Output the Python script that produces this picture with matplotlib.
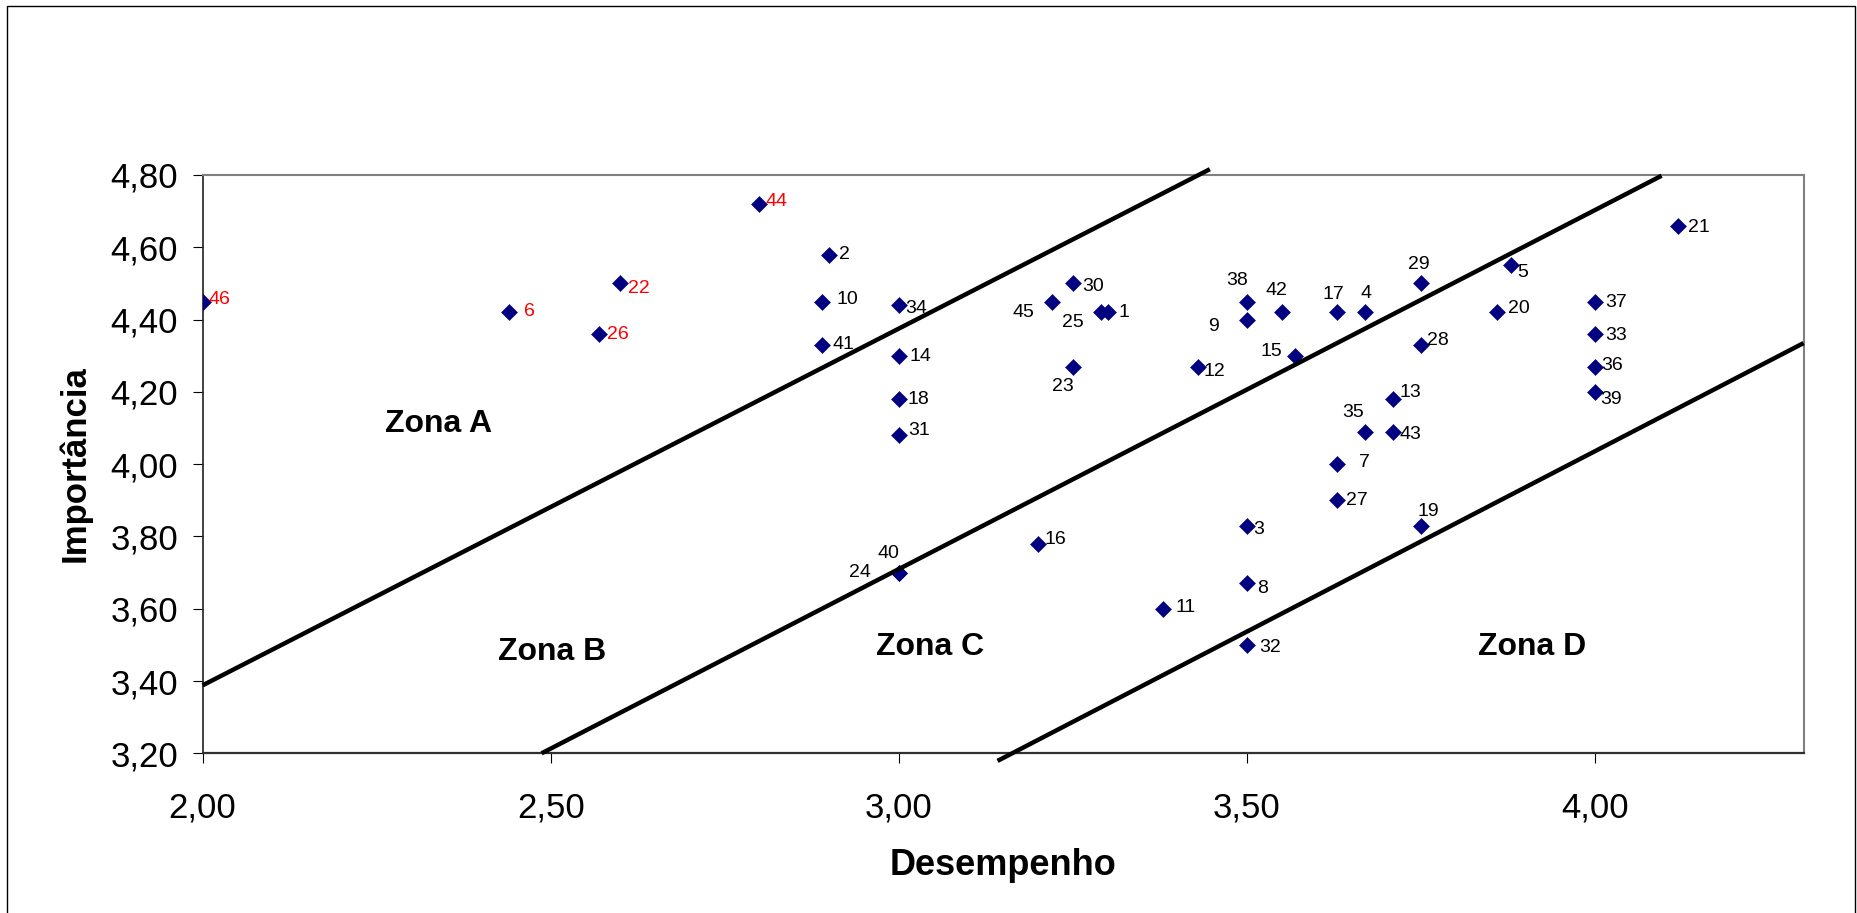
import matplotlib
matplotlib.use("Agg")
import matplotlib.pyplot as plt
from matplotlib.patches import Rectangle
from matplotlib.ticker import FixedLocator, FuncFormatter

plt.rcParams['font.family'] = ['Liberation Sans', 'DejaVu Sans']

# ---- data -------------------------------------------------------------
item_ids = list(range(1, 47))
desempenho = [3.30, 2.90, 3.50, 3.67, 3.88, 2.44, 3.63, 3.50, 3.50, 2.89,
              3.38, 3.43, 3.71, 3.00, 3.57, 3.20, 3.63, 3.00, 3.75, 3.86,
              4.12, 2.60, 3.25, 3.00, 3.29, 2.57, 3.63, 3.75, 3.75, 3.25,
              3.00, 3.50, 4.00, 3.00, 3.67, 4.00, 4.00, 3.50, 4.00, 3.00,
              2.89, 3.55, 3.71, 2.80, 3.22, 2.00]
importancia = [4.42, 4.58, 3.83, 4.42, 4.55, 4.42, 4.00, 3.67, 4.40, 4.45,
               3.60, 4.27, 4.18, 4.30, 4.30, 3.78, 4.42, 4.18, 3.83, 4.42,
               4.66, 4.50, 4.27, 3.70, 4.42, 4.36, 3.90, 4.33, 4.50, 4.50,
               4.08, 3.50, 4.36, 4.44, 4.09, 4.27, 4.45, 4.45, 4.20, 3.70,
               4.33, 4.42, 4.09, 4.72, 4.45, 4.45]
highlighted_ids = [6, 22, 26, 44, 46]

zone_names = ['Zona A', 'Zona B', 'Zona C', 'Zona D']
zone_x = [2.262, 2.424, 2.968, 3.832]
zone_y = [4.088, 3.458, 3.472, 3.471]

# zone boundaries, given by their end points
boundary_x = [(2.000, 3.447), (2.487, 4.096), (3.142, 4.300)]
boundary_y = [(3.388, 4.816), (3.200, 4.798), (3.179, 4.335)]

x_ticks = [2.0, 2.5, 3.0, 3.5, 4.0]
y_ticks = [3.2, 3.4, 3.6, 3.8, 4.0, 4.2, 4.4, 4.6, 4.8]
x_limits = (2.0, 4.3)
y_limits = (3.2, 4.8)

# ---- label placement (pixels from marker: dx, dy downwards, alignment) --
label_place = {
    1: (11, -2, 'left'), 2: (10, -2.5, 'left'), 3: (6, 1.3, 'left'),
    4: (1, -21, 'center'), 5: (6, 5, 'left'), 6: (15, -3, 'left'),
    7: (21.5, -4, 'left'), 8: (10.7, 3, 'left'), 9: (-28, 5, 'right'),
    10: (14, -4, 'left'), 11: (12, -4, 'left'), 12: (5, 3, 'left'),
    13: (6.7, -8.5, 'left'), 14: (11, -2, 'left'), 15: (-13, -6.5, 'right'),
    16: (7, -6.7, 'left'), 17: (-4.3, -20, 'center'), 18: (9, -2, 'left'),
    19: (8, -16, 'center'), 20: (11, -6.3, 'left'), 21: (10, -0.7, 'left'),
    22: (7.7, 2.3, 'left'), 23: (-9.7, 18, 'center'), 24: (-27.6, -2.3, 'right'),
    25: (-16.7, 7.8, 'right'), 26: (8, -2, 'left'), 27: (9.2, -2.5, 'left'),
    28: (6.7, -6.8, 'left'), 29: (-2.3, -21.5, 'center'), 30: (10, 0.5, 'left'),
    31: (10, -7, 'left'), 32: (12.6, 0.5, 'left'), 33: (10, -1.2, 'left'),
    34: (6.3, 0.8, 'left'), 35: (-12.3, -21.5, 'center'), 36: (6, -3.8, 'left'),
    37: (10, -1.2, 'left'), 38: (-9.7, -23.3, 'center'), 39: (5, 4.8, 'left'),
    40: (-10, -21.5, 'center'), 41: (10.3, -2.7, 'left'), 42: (-4.7, -24, 'center'),
    43: (6.3, 0.3, 'left'), 44: (5.7, -4.8, 'left'), 45: (-17.7, 8.2, 'right'),
    46: (5.7, -4, 'left'),
}

W, H, DPI = 1858, 913, 100
fig = plt.figure(figsize=(W / DPI, H / DPI), dpi=DPI)
fig.patch.set_facecolor('white')

# chart frame
fig.patches.append(Rectangle((7.3 / W, -0.02), (1855 - 7.3) / W, 1.02 - 5.7 / H,
                             transform=fig.transFigure, fill=False,
                             edgecolor='black', linewidth=1.0))

left, right = 202.6 / W, 1803.6 / W
bottom, top = 1 - 753.3 / H, 1 - 175 / H
ax = fig.add_axes([left, bottom, right - left, top - bottom])
ax.set_xlim(*x_limits)
ax.set_ylim(*y_limits)

# spines
for side in ('top', 'right'):
    ax.spines[side].set_color('#808080')
    ax.spines[side].set_linewidth(1.5)
ax.spines['left'].set_color('#202020')
ax.spines['left'].set_linewidth(1.2)
ax.spines['bottom'].set_color('#303030')
ax.spines['bottom'].set_linewidth(1.6)

ax.xaxis.set_major_locator(FixedLocator(x_ticks))
ax.yaxis.set_major_locator(FixedLocator(y_ticks))
fmt = FuncFormatter(lambda v, pos: f"{v:.2f}".replace('.', ','))
ax.xaxis.set_major_formatter(fmt)
ax.yaxis.set_major_formatter(fmt)
ax.tick_params(axis='both', direction='out', length=7.2, width=0.8,
               color='black', labelsize=25, labelcolor='black')
ax.tick_params(axis='y', pad=10.5)
ax.tick_params(axis='x', pad=20.5)

# points
ax.plot(desempenho, importancia, linestyle='none', marker='D',
        markersize=8.4, color='#000080', markeredgecolor='#000080',
        markeredgewidth=0.4, zorder=3)

# zone boundaries
for bx, by in zip(boundary_x, boundary_y):
    ax.plot(bx, by, color='black', linewidth=3.2, solid_capstyle='butt',
            clip_on=False, zorder=4)

# point labels
for i, xv, yv in zip(item_ids, desempenho, importancia):
    dx, dy, ha = label_place[i]
    color = 'red' if i in highlighted_ids else 'black'
    ax.annotate(str(i), (xv, yv), xytext=(dx, -(dy + 6.9)),
                textcoords='offset pixels', ha=ha, va='baseline',
                fontsize=14, color=color, zorder=5, annotation_clip=False)

# zone labels
for name, zx, zy in zip(zone_names, zone_x, zone_y):
    ax.text(zx, zy, name, ha='left', va='baseline', fontsize=23,
            fontweight='bold', color='black', zorder=5)

# axis titles
fig.text(1003 / W, 1 - 865.5 / H, 'Desempenho', ha='center', va='center',
         fontsize=26, fontweight='bold')
fig.text(75 / W, 1 - 464 / H, 'Importância', ha='center', va='center',
         rotation=90, fontsize=25, fontweight='bold')

fig.savefig('out.png', dpi=DPI, facecolor='white')
